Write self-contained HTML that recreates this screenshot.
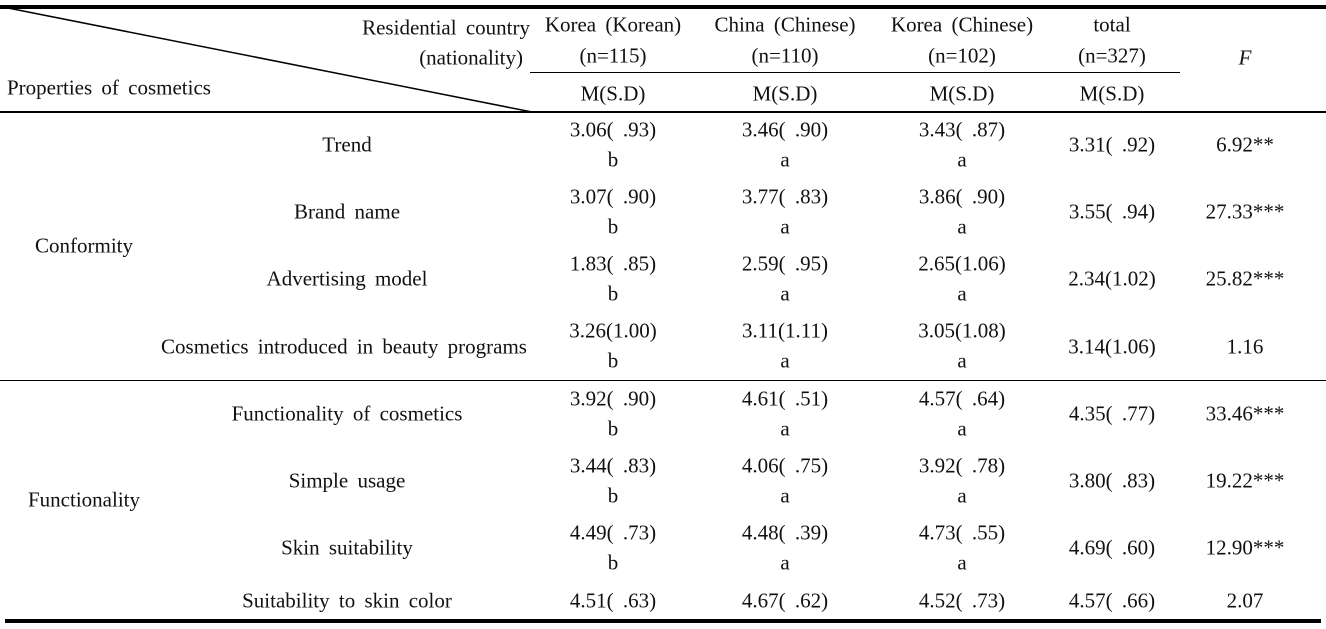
<!DOCTYPE html>
<html><head><meta charset="utf-8"><style>
body{margin:0;width:1326px;height:629px;background:#fff;position:relative;overflow:hidden;font-family:"Liberation Serif",serif;font-size:21px;word-spacing:4px;color:#111}
.t{position:absolute;white-space:nowrap;transform:translate(-50%,-50%);line-height:1}
.r{position:absolute;white-space:nowrap;transform:translateY(-50%);line-height:1}
.l{position:absolute;background:#000}
</style></head><body>
<div class="l" style="left:0;top:5px;width:1326px;height:4px"></div>
<div class="l" style="left:530px;top:72px;width:650px;height:1px"></div>
<div class="l" style="left:0;top:111px;width:1326px;height:2px"></div>
<div class="l" style="left:0;top:380px;width:1326px;height:1px"></div>
<div class="l" style="left:5px;top:619px;width:1316px;height:4px"></div>
<svg style="position:absolute;left:0;top:0" width="1326" height="629"><line x1="8" y1="8" x2="532" y2="112" stroke="#000" stroke-width="1.5"/></svg>
<div class="r" style="right:796px;top:28px">Residential country</div>
<div class="r" style="right:803px;top:58px">(nationality)</div>
<div class="r" style="left:7px;top:88px">Properties of cosmetics</div>
<div class="t" style="left:613px;top:25px">Korea (Korean)</div><div class="t" style="left:613px;top:56px">(n=115)</div><div class="t" style="left:613px;top:94px">M(S.D)</div>
<div class="t" style="left:785px;top:25px">China (Chinese)</div><div class="t" style="left:785px;top:56px">(n=110)</div><div class="t" style="left:785px;top:94px">M(S.D)</div>
<div class="t" style="left:962px;top:25px">Korea (Chinese)</div><div class="t" style="left:962px;top:56px">(n=102)</div><div class="t" style="left:962px;top:94px">M(S.D)</div>
<div class="t" style="left:1112px;top:25px">total</div><div class="t" style="left:1112px;top:56px">(n=327)</div><div class="t" style="left:1112px;top:94px">M(S.D)</div>
<div class="t" style="left:1245px;top:58px;font-style:italic">F</div>
<div class="t" style="left:84px;top:246px">Conformity</div>
<div class="t" style="left:84px;top:500px">Functionality</div>

<div class="t" style="left:347px;top:145px">Trend</div>
<div class="t" style="left:613px;top:130px">3.06( .93)</div><div class="t" style="left:613px;top:160px">b</div>
<div class="t" style="left:785px;top:130px">3.46( .90)</div><div class="t" style="left:785px;top:160px">a</div>
<div class="t" style="left:962px;top:130px">3.43( .87)</div><div class="t" style="left:962px;top:160px">a</div>
<div class="t" style="left:1112px;top:145px">3.31( .92)</div><div class="t" style="left:1245px;top:145px">6.92**</div>

<div class="t" style="left:347px;top:212px">Brand name</div>
<div class="t" style="left:613px;top:197px">3.07( .90)</div><div class="t" style="left:613px;top:227px">b</div>
<div class="t" style="left:785px;top:197px">3.77( .83)</div><div class="t" style="left:785px;top:227px">a</div>
<div class="t" style="left:962px;top:197px">3.86( .90)</div><div class="t" style="left:962px;top:227px">a</div>
<div class="t" style="left:1112px;top:212px">3.55( .94)</div><div class="t" style="left:1245px;top:212px">27.33***</div>

<div class="t" style="left:347px;top:279px">Advertising model</div>
<div class="t" style="left:613px;top:264px">1.83( .85)</div><div class="t" style="left:613px;top:294px">b</div>
<div class="t" style="left:785px;top:264px">2.59( .95)</div><div class="t" style="left:785px;top:294px">a</div>
<div class="t" style="left:962px;top:264px">2.65(1.06)</div><div class="t" style="left:962px;top:294px">a</div>
<div class="t" style="left:1112px;top:279px">2.34(1.02)</div><div class="t" style="left:1245px;top:279px">25.82***</div>

<div class="t" style="left:344px;top:347px">Cosmetics introduced in beauty programs</div>
<div class="t" style="left:613px;top:331px">3.26(1.00)</div><div class="t" style="left:613px;top:361px">b</div>
<div class="t" style="left:785px;top:331px">3.11(1.11)</div><div class="t" style="left:785px;top:361px">a</div>
<div class="t" style="left:962px;top:331px">3.05(1.08)</div><div class="t" style="left:962px;top:361px">a</div>
<div class="t" style="left:1112px;top:347px">3.14(1.06)</div><div class="t" style="left:1245px;top:347px">1.16</div>

<div class="t" style="left:347px;top:414px">Functionality of cosmetics</div>
<div class="t" style="left:613px;top:399px">3.92( .90)</div><div class="t" style="left:613px;top:429px">b</div>
<div class="t" style="left:785px;top:399px">4.61( .51)</div><div class="t" style="left:785px;top:429px">a</div>
<div class="t" style="left:962px;top:399px">4.57( .64)</div><div class="t" style="left:962px;top:429px">a</div>
<div class="t" style="left:1112px;top:414px">4.35( .77)</div><div class="t" style="left:1245px;top:414px">33.46***</div>

<div class="t" style="left:347px;top:481px">Simple usage</div>
<div class="t" style="left:613px;top:466px">3.44( .83)</div><div class="t" style="left:613px;top:496px">b</div>
<div class="t" style="left:785px;top:466px">4.06( .75)</div><div class="t" style="left:785px;top:496px">a</div>
<div class="t" style="left:962px;top:466px">3.92( .78)</div><div class="t" style="left:962px;top:496px">a</div>
<div class="t" style="left:1112px;top:481px">3.80( .83)</div><div class="t" style="left:1245px;top:481px">19.22***</div>

<div class="t" style="left:347px;top:548px">Skin suitability</div>
<div class="t" style="left:613px;top:533px">4.49( .73)</div><div class="t" style="left:613px;top:563px">b</div>
<div class="t" style="left:785px;top:533px">4.48( .39)</div><div class="t" style="left:785px;top:563px">a</div>
<div class="t" style="left:962px;top:533px">4.73( .55)</div><div class="t" style="left:962px;top:563px">a</div>
<div class="t" style="left:1112px;top:548px">4.69( .60)</div><div class="t" style="left:1245px;top:548px">12.90***</div>

<div class="t" style="left:347px;top:601px">Suitability to skin color</div>
<div class="t" style="left:613px;top:601px">4.51( .63)</div>
<div class="t" style="left:785px;top:601px">4.67( .62)</div>
<div class="t" style="left:962px;top:601px">4.52( .73)</div>
<div class="t" style="left:1112px;top:601px">4.57( .66)</div><div class="t" style="left:1245px;top:601px">2.07</div>
</body></html>
